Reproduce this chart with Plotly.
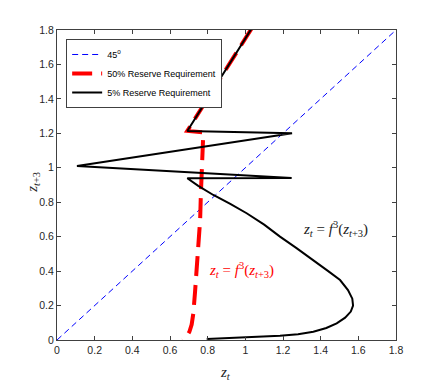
import plotly.graph_objects as go

# 45 degree line
diag_x = [0, 1.8]
diag_y = [0, 1.8]

# 50% reserve requirement: z_t = f^3(z_{t+3})
red_x = [1.034, 0.692, 0.777, 0.772, 0.768, 0.764, 0.760, 0.752, 0.742, 0.733, 0.724, 0.715, 0.703, 0.688, 0.667]
red_y = [1.81, 1.214, 1.205, 1.10, 0.987, 0.85, 0.697, 0.55, 0.407, 0.28, 0.155, 0.09, 0.048, 0.02, 0.0]

# 5% reserve requirement
blk_x = [1.034, 0.692, 1.248, 0.106, 1.246, 0.692, 0.75, 0.83, 0.92, 1.007, 1.10, 1.184, 1.27, 1.361,
         1.44, 1.503, 1.545, 1.568, 1.572, 1.56, 1.53, 1.485, 1.43, 1.361, 1.28, 1.184, 1.10, 1.007, 0.90, 0.795]
blk_y = [1.81, 1.214, 1.20, 1.01, 0.94, 0.939, 0.895, 0.842, 0.79, 0.736, 0.67, 0.60, 0.535, 0.465,
         0.40, 0.348, 0.29, 0.24, 0.20, 0.165, 0.13, 0.097, 0.07, 0.048, 0.034, 0.025, 0.02, 0.016, 0.011, 0.006]

ticks = [0, 0.2, 0.4, 0.6, 0.8, 1, 1.2, 1.4, 1.6, 1.8]
tick_text = ["0", "0.2", "0.4", "0.6", "0.8", "1", "1.2", "1.4", "1.6", "1.8"]

eq = "<i>z<sub>t</sub></i> = <i>f</i><sup>3</sup>(<i>z</i><sub><i>t</i>+3</sub>)"
serif = "Liberation Serif"

fig = go.Figure()
fig.add_trace(go.Scatter(x=diag_x, y=diag_y, mode='lines', name='45<sup>o</sup>',
                         line=dict(color='blue', width=1, dash='6px,4px')))
fig.add_trace(go.Scatter(x=red_x, y=red_y, mode='lines', name='50% Reserve Requirement',
                         line=dict(color='red', width=4, dash='20px,9px')))
fig.add_trace(go.Scatter(x=blk_x, y=blk_y, mode='lines', name='5% Reserve Requirement',
                         line=dict(color='black', width=2)))

fig.add_annotation(x=1.48, y=0.645, text=eq, showarrow=False,
                   font=dict(family=serif, size=15, color='#222'))
fig.add_annotation(x=0.98, y=0.407, text=eq, showarrow=False,
                   font=dict(family=serif, size=15, color='red'))

# axis titles
fig.add_annotation(x=0.496, y=-0.106, xref='paper', yref='paper', showarrow=False,
                   xanchor='center', yanchor='middle',
                   text="<i>z<sub>t</sub></i>", font=dict(family=serif, size=15, color='#262626'))
fig.add_annotation(x=-0.071, y=0.51, xref='paper', yref='paper', showarrow=False, textangle=-90,
                   xanchor='center', yanchor='middle',
                   text="<i>z</i><sub><i>t</i>+3</sub>", font=dict(family=serif, size=15, color='#262626'))

axis_style = dict(range=[0, 1.8], tickvals=ticks, ticktext=tick_text,
                  ticks='inside', ticklen=4, tickcolor='#404040',
                  showline=True, linecolor='#404040', linewidth=1, mirror='ticks',
                  showgrid=False, zeroline=False, automargin=False,
                  tickfont=dict(family="Liberation Sans", size=10.5, color='#262626'))

fig.update_xaxes(**axis_style)
fig.update_yaxes(**axis_style)

# page body adds an 8px offset, so the figure is 8px smaller than the window
fig.update_layout(
    width=428, height=374,
    margin=dict(l=49, r=40, t=22, b=42),
    plot_bgcolor='white', paper_bgcolor='white',
    font=dict(family="Liberation Sans", size=10, color='black'),
    legend=dict(x=0.027, y=0.971, xanchor='left', yanchor='top',
                bgcolor='white', bordercolor='#404040', borderwidth=1,
                font=dict(family="Liberation Sans", size=9),
                tracegroupgap=0, itemwidth=30),
)

fig.write_html("out.html")
